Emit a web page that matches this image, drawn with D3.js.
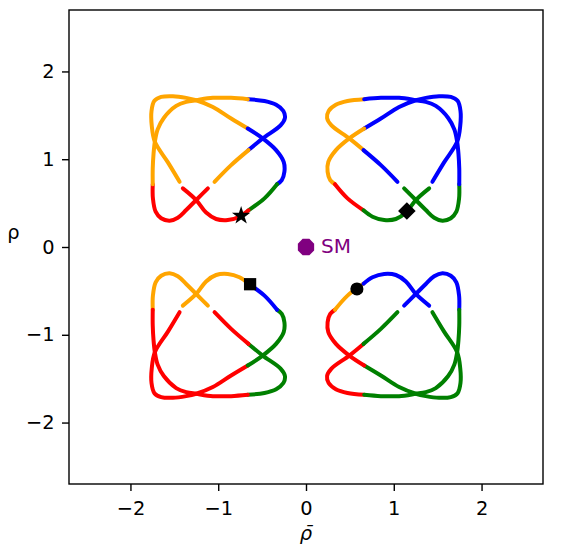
<!DOCTYPE html>
<html>
<head>
<meta charset="utf-8">
<script src="https://cdn.jsdelivr.net/npm/d3@7"></script>
<style>
  body { margin: 0; background: #fff; }
  text { font-family: "DejaVu Sans", sans-serif; }
</style>
</head>
<body>
<script>
// axis ticks
const xTicks = [-2, -1, 0, 1, 2]
const yTicks = [-2, -1, 0, 1, 2]

// quadrant (relative to each curve's colour split) -> colour
const quadrants = ['ul', 'ur', 'lr', 'll']
const quadColors = ['#ffa500', '#0000ff', '#008000', '#ff0000']

// curve pieces: [rho_bar, rho]
const curveTR = [
  { q: 'ul', pts: [[0.663, 1.684], [0.473, 1.663], [0.340, 1.620], [0.258, 1.550], [0.240, 1.470], [0.290, 1.385], [0.493, 1.237], [0.655, 1.104]] },
  { q: 'ur', pts: [[0.655, 1.104], [0.853, 0.933], [1.042, 0.743]] },
  { q: 'lr', pts: [[1.118, 0.668], [1.251, 0.535], [1.365, 0.421], [1.460, 0.333], [1.554, 0.299], [1.650, 0.327], [1.713, 0.402], [1.744, 0.554], [1.746, 0.715]] },
  { q: 'ur', pts: [[1.746, 0.715], [1.746, 0.895], [1.737, 1.060], [1.722, 1.198], [1.690, 1.340], [1.620, 1.470], [1.479, 1.607], [1.365, 1.653], [1.251, 1.672], [1.061, 1.699], [0.853, 1.699], [0.663, 1.684]] },
  { q: 'ur', pts: [[1.440, 0.743], [1.573, 0.964], [1.722, 1.198], [1.757, 1.380], [1.760, 1.550], [1.727, 1.665], [1.650, 1.710], [1.516, 1.718], [1.365, 1.699], [1.251, 1.672], [1.061, 1.596], [0.853, 1.464], [0.663, 1.350]] },
  { q: 'ul', pts: [[0.663, 1.350], [0.493, 1.237], [0.341, 1.104], [0.254, 0.970], [0.246, 0.857], [0.276, 0.762], [0.330, 0.715]] },
  { q: 'll', pts: [[0.330, 0.715], [0.473, 0.554], [0.655, 0.418]] },
  { q: 'lr', pts: [[0.655, 0.418], [0.758, 0.345], [0.891, 0.307], [1.024, 0.319], [1.138, 0.392], [1.251, 0.535], [1.403, 0.668]] }
]

const curveTL = [
  { q: 'ur', pts: [[-0.663, 1.684], [-0.473, 1.663], [-0.340, 1.620], [-0.258, 1.550], [-0.240, 1.470], [-0.290, 1.385], [-0.493, 1.237], [-0.655, 1.104]] },
  { q: 'ul', pts: [[-0.655, 1.104], [-0.853, 0.933], [-1.042, 0.743]] },
  { q: 'll', pts: [[-1.118, 0.668], [-1.251, 0.535], [-1.365, 0.421], [-1.460, 0.333], [-1.554, 0.299], [-1.650, 0.327], [-1.713, 0.402], [-1.744, 0.554], [-1.746, 0.715]] },
  { q: 'ul', pts: [[-1.746, 0.715], [-1.746, 0.895], [-1.737, 1.060], [-1.722, 1.198], [-1.690, 1.340], [-1.620, 1.470], [-1.479, 1.607], [-1.365, 1.653], [-1.251, 1.672], [-1.061, 1.699], [-0.853, 1.699], [-0.663, 1.684]] },
  { q: 'ul', pts: [[-1.440, 0.743], [-1.573, 0.964], [-1.722, 1.198], [-1.757, 1.380], [-1.760, 1.550], [-1.727, 1.665], [-1.650, 1.710], [-1.516, 1.718], [-1.365, 1.699], [-1.251, 1.672], [-1.061, 1.596], [-0.853, 1.464], [-0.663, 1.350]] },
  { q: 'ur', pts: [[-0.663, 1.350], [-0.493, 1.237], [-0.341, 1.104], [-0.254, 0.970], [-0.246, 0.857], [-0.276, 0.762], [-0.330, 0.715]] },
  { q: 'lr', pts: [[-0.330, 0.715], [-0.473, 0.554], [-0.655, 0.418]] },
  { q: 'll', pts: [[-0.655, 0.418], [-0.758, 0.345], [-0.891, 0.307], [-1.024, 0.319], [-1.138, 0.392], [-1.251, 0.535], [-1.403, 0.668]] }
]

const curveBR = [
  { q: 'll', pts: [[0.663, -1.684], [0.473, -1.663], [0.340, -1.620], [0.258, -1.550], [0.240, -1.470], [0.290, -1.385], [0.493, -1.237], [0.655, -1.104]] },
  { q: 'lr', pts: [[0.655, -1.104], [0.853, -0.933], [1.042, -0.743]] },
  { q: 'ur', pts: [[1.118, -0.668], [1.251, -0.535], [1.365, -0.421], [1.460, -0.333], [1.554, -0.299], [1.650, -0.327], [1.713, -0.402], [1.744, -0.554], [1.746, -0.715]] },
  { q: 'lr', pts: [[1.746, -0.715], [1.746, -0.895], [1.737, -1.060], [1.722, -1.198], [1.690, -1.340], [1.620, -1.470], [1.479, -1.607], [1.365, -1.653], [1.251, -1.672], [1.061, -1.699], [0.853, -1.699], [0.663, -1.684]] },
  { q: 'lr', pts: [[1.440, -0.743], [1.573, -0.964], [1.722, -1.198], [1.757, -1.380], [1.760, -1.550], [1.727, -1.665], [1.650, -1.710], [1.516, -1.718], [1.365, -1.699], [1.251, -1.672], [1.061, -1.596], [0.853, -1.464], [0.663, -1.350]] },
  { q: 'll', pts: [[0.663, -1.350], [0.493, -1.237], [0.341, -1.104], [0.254, -0.970], [0.246, -0.857], [0.276, -0.762], [0.330, -0.715]] },
  { q: 'ul', pts: [[0.330, -0.715], [0.473, -0.554], [0.655, -0.418]] },
  { q: 'ur', pts: [[0.655, -0.418], [0.758, -0.345], [0.891, -0.307], [1.024, -0.319], [1.138, -0.392], [1.251, -0.535], [1.403, -0.668]] }
]

const curveBL = [
  { q: 'lr', pts: [[-0.663, -1.684], [-0.473, -1.663], [-0.340, -1.620], [-0.258, -1.550], [-0.240, -1.470], [-0.290, -1.385], [-0.493, -1.237], [-0.655, -1.104]] },
  { q: 'll', pts: [[-0.655, -1.104], [-0.853, -0.933], [-1.042, -0.743]] },
  { q: 'ul', pts: [[-1.118, -0.668], [-1.251, -0.535], [-1.365, -0.421], [-1.460, -0.333], [-1.554, -0.299], [-1.650, -0.327], [-1.713, -0.402], [-1.744, -0.554], [-1.746, -0.715]] },
  { q: 'll', pts: [[-1.746, -0.715], [-1.746, -0.895], [-1.737, -1.060], [-1.722, -1.198], [-1.690, -1.340], [-1.620, -1.470], [-1.479, -1.607], [-1.365, -1.653], [-1.251, -1.672], [-1.061, -1.699], [-0.853, -1.699], [-0.663, -1.684]] },
  { q: 'll', pts: [[-1.440, -0.743], [-1.573, -0.964], [-1.722, -1.198], [-1.757, -1.380], [-1.760, -1.550], [-1.727, -1.665], [-1.650, -1.710], [-1.516, -1.718], [-1.365, -1.699], [-1.251, -1.672], [-1.061, -1.596], [-0.853, -1.464], [-0.663, -1.350]] },
  { q: 'lr', pts: [[-0.663, -1.350], [-0.493, -1.237], [-0.341, -1.104], [-0.254, -0.970], [-0.246, -0.857], [-0.276, -0.762], [-0.330, -0.715]] },
  { q: 'ur', pts: [[-0.330, -0.715], [-0.473, -0.554], [-0.655, -0.418]] },
  { q: 'ul', pts: [[-0.655, -0.418], [-0.758, -0.345], [-0.891, -0.307], [-1.024, -0.319], [-1.138, -0.392], [-1.251, -0.535], [-1.403, -0.668]] }
]

// benchmark points
const markers = [
  { shape: 'star', x: -0.739, y: 0.356 },
  { shape: 'diamond', x: 1.149, y: 0.410 },
  { shape: 'square', x: -0.637, y: -0.424 },
  { shape: 'circle', x: 0.580, y: -0.478 }
]
const smPoint = { x: 0, y: 0, label: 'SM' }

const width = 562
const height = 556
const margin = { top: 10, right: 18, bottom: 72, left: 69 }

const svg = d3.select('body')
  .append('svg')
  .attr('width', width)
  .attr('height', height)

const xScale = d3.scaleLinear()
  .domain([-2.7, 2.7])
  .range([margin.left, width - margin.right - 1])

const yScale = d3.scaleLinear()
  .domain([-2.7, 2.7])
  .range([height - margin.bottom, margin.top])

const color = d3.scaleOrdinal(quadrants, quadColors)

const line = d3.line()
  .x(d => xScale(d[0]))
  .y(d => yScale(d[1]))
  .curve(d3.curveCatmullRom.alpha(0.5))

const segments = [].concat(curveTR, curveTL, curveBR, curveBL)

svg.append('g')
  .selectAll('path')
  .data(segments)
  .enter()
  .append('path')
  .attr('d', d => line(d.pts))
  .attr('fill', 'none')
  .attr('stroke', d => color(d.q))
  .attr('stroke-width', 4)
  .attr('stroke-linecap', 'round')
  .attr('stroke-linejoin', 'round')

// markers
const octagon = {
  draw (ctx, size) {
    const r = Math.sqrt(size / (2 * Math.SQRT2))
    for (let i = 0; i < 8; i++) {
      const a = Math.PI / 8 + i * Math.PI / 4
      if (i === 0) ctx.moveTo(r * Math.cos(a), r * Math.sin(a))
      else ctx.lineTo(r * Math.cos(a), r * Math.sin(a))
    }
    ctx.closePath()
  }
}

const symbolFor = {
  star: d3.symbol(d3.symbolStar, 105),
  diamond: d3.symbol(d3.symbolSquare, 155),
  square: d3.symbol(d3.symbolSquare, 150),
  circle: d3.symbol(d3.symbolCircle, 135)
}

svg.append('g')
  .selectAll('path')
  .data(markers)
  .enter()
  .append('path')
  .attr('d', d => symbolFor[d.shape]())
  .attr('transform', d => `translate(${xScale(d.x)},${yScale(d.y)})` + (d.shape === 'diamond' ? ' rotate(45)' : ''))
  .attr('fill', 'black')

svg.append('path')
  .attr('d', d3.symbol(octagon, 220)())
  .attr('transform', `translate(${xScale(smPoint.x)},${yScale(smPoint.y)})`)
  .attr('fill', '#800080')

svg.append('text')
  .attr('x', xScale(smPoint.x) + 15)
  .attr('y', yScale(smPoint.y) + 6)
  .attr('fill', '#800080')
  .attr('font-size', '20px')
  .text(smPoint.label)

// axes
const fmt = d3.format('d')

const xAxis = svg.append('g')
  .attr('transform', `translate(0, ${height - margin.bottom})`)
  .call(d3.axisBottom(xScale).tickValues(xTicks).tickFormat(fmt).tickSize(7).tickPadding(10).tickSizeOuter(0))

const yAxis = svg.append('g')
  .attr('transform', `translate(${margin.left}, 0)`)
  .call(d3.axisLeft(yScale).tickValues(yTicks).tickFormat(fmt).tickSize(7).tickPadding(7.5).tickSizeOuter(0))

for (const ax of [xAxis, yAxis]) {
  ax.select('.domain').remove()
  ax.selectAll('line').attr('stroke', 'black').attr('stroke-width', 1.4)
  ax.selectAll('text')
    .attr('fill', 'black')
    .style('font-family', '"DejaVu Sans", sans-serif')
    .style('font-size', '19.4px')
}

svg.append('rect')
  .attr('x', margin.left)
  .attr('y', margin.top)
  .attr('width', xScale.range()[1] - margin.left)
  .attr('height', yScale.range()[0] - margin.top)
  .attr('fill', 'none')
  .attr('stroke', 'black')
  .attr('stroke-width', 1.4)

// axis labels
svg.append('text')
  .attr('x', 13.5)
  .attr('y', 239)
  .attr('text-anchor', 'middle')
  .attr('font-size', '19.4px')
  .text('ρ')

svg.append('text')
  .attr('x', xScale(0))
  .attr('y', 540)
  .attr('text-anchor', 'middle')
  .attr('font-size', '19.4px')
  .attr('font-style', 'italic')
  .text('ρ\u0304')
</script>
</body>
</html>
